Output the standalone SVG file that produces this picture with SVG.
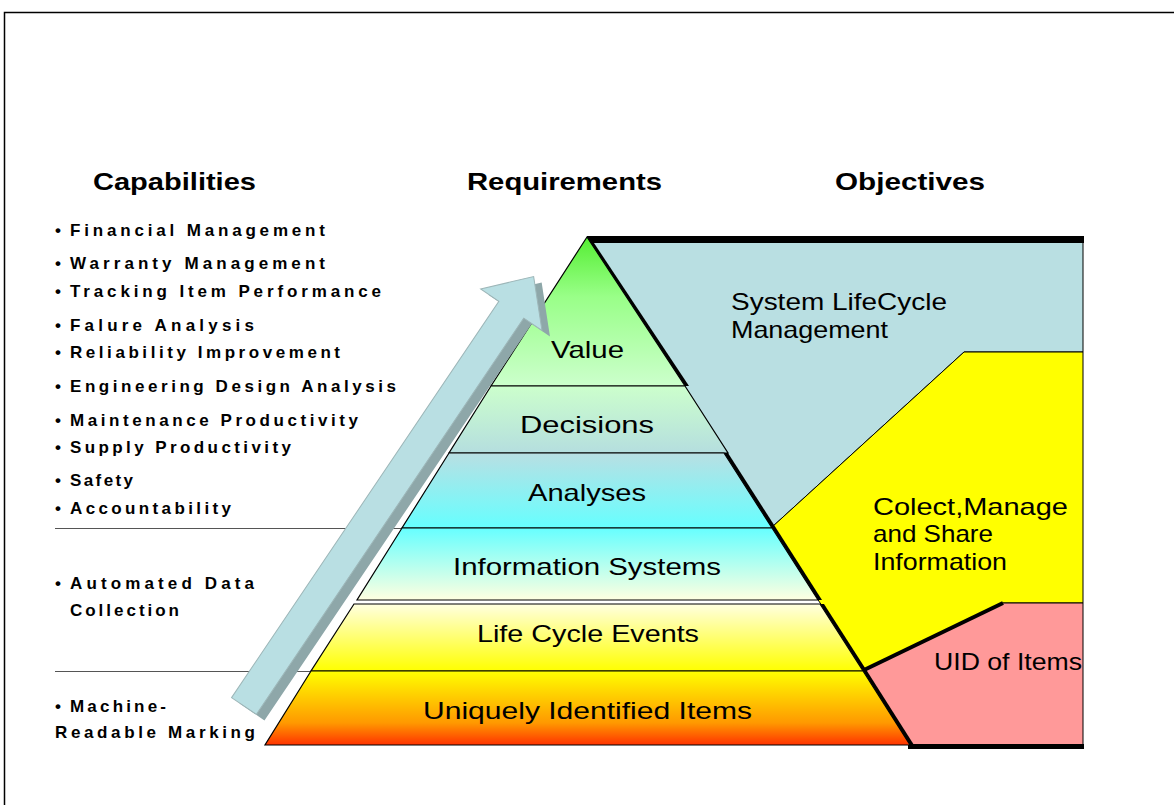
<svg xmlns="http://www.w3.org/2000/svg" width="1174" height="805" viewBox="0 0 1174 805">
<style>
.hdr{font-family:"Liberation Sans",Arial,sans-serif;font-weight:bold;font-size:24px;fill:#000}
.cap{font-family:"Liberation Sans",Arial,sans-serif;font-weight:bold;font-size:17px;fill:#000}
.lbl{font-family:"Liberation Sans",Arial,sans-serif;font-size:24px;fill:#000}
.band{stroke:#000;stroke-width:1.2}
.shadow{fill:#000}
.sep{stroke:#555;stroke-width:1}
</style>
<defs>
<linearGradient id="gValue" x1="0" y1="0" x2="0" y2="1">
<stop offset="0" stop-color="#55EE33"/><stop offset="0.4" stop-color="#99FF88"/><stop offset="1" stop-color="#CCFFCC"/>
</linearGradient>
<linearGradient id="gDec" x1="0" y1="0" x2="0" y2="1">
<stop offset="0" stop-color="#CCFFCC"/><stop offset="1" stop-color="#B5DEDF"/>
</linearGradient>
<linearGradient id="gAna" x1="0" y1="0" x2="0" y2="1">
<stop offset="0" stop-color="#B9DFE3"/><stop offset="1" stop-color="#66FFFF"/>
</linearGradient>
<linearGradient id="gInfo" x1="0" y1="0" x2="0" y2="1">
<stop offset="0" stop-color="#66FFFF"/><stop offset="1" stop-color="#FFFFE0"/>
</linearGradient>
<linearGradient id="gLife" x1="0" y1="0" x2="0" y2="1">
<stop offset="0" stop-color="#FFFFE0"/><stop offset="1" stop-color="#FFFF00"/>
</linearGradient>
<linearGradient id="gUid" x1="0" y1="0" x2="0" y2="1">
<stop offset="0" stop-color="#FFFF00"/><stop offset="0.35" stop-color="#FFCC00"/><stop offset="0.7" stop-color="#FF9900"/><stop offset="1" stop-color="#FF3300"/>
</linearGradient>
</defs>

<rect x="4.5" y="12.5" width="1180" height="800" fill="#fff" stroke="#000" stroke-width="1.5"/>

<g id="headers">
<text class="hdr" x="93" y="190" textLength="163" lengthAdjust="spacingAndGlyphs">Capabilities</text>
<text class="hdr" x="467" y="190" textLength="195" lengthAdjust="spacingAndGlyphs">Requirements</text>
<text class="hdr" x="835" y="190" textLength="150" lengthAdjust="spacingAndGlyphs">Objectives</text>
</g>

<g id="capabilities">
<text class="cap" x="55" y="236">•</text><text class="cap" x="70" y="236" textLength="255" lengthAdjust="spacing">Financial Management</text>
<text class="cap" x="55" y="269">•</text><text class="cap" x="70" y="269" textLength="255" lengthAdjust="spacing">Warranty Management</text>
<text class="cap" x="55" y="297">•</text><text class="cap" x="70" y="297" textLength="311" lengthAdjust="spacing">Tracking Item Performance</text>
<text class="cap" x="55" y="331">•</text><text class="cap" x="70" y="331" textLength="184" lengthAdjust="spacing">Falure Analysis</text>
<text class="cap" x="55" y="358">•</text><text class="cap" x="70" y="358" textLength="270" lengthAdjust="spacing">Reliability Improvement</text>
<text class="cap" x="55" y="392">•</text><text class="cap" x="70" y="392" textLength="326" lengthAdjust="spacing">Engineering Design Analysis</text>
<text class="cap" x="55" y="426">•</text><text class="cap" x="70" y="426" textLength="288" lengthAdjust="spacing">Maintenance Productivity</text>
<text class="cap" x="55" y="453">•</text><text class="cap" x="70" y="453" textLength="221" lengthAdjust="spacing">Supply Productivity</text>
<text class="cap" x="55" y="486">•</text><text class="cap" x="70" y="486" textLength="63" lengthAdjust="spacing">Safety</text>
<text class="cap" x="55" y="514">•</text><text class="cap" x="70" y="514" textLength="161" lengthAdjust="spacing">Accountability</text>
<text class="cap" x="55" y="589">•</text><text class="cap" x="70" y="589" textLength="184" lengthAdjust="spacing">Automated Data</text>
<text class="cap" x="70" y="616" textLength="109" lengthAdjust="spacing">Collection</text>
<text class="cap" x="55" y="712">•</text><text class="cap" x="70" y="712" textLength="96" lengthAdjust="spacing">Machine-</text>
<text class="cap" x="55" y="738" textLength="200" lengthAdjust="spacing">Readable Marking</text>
</g>

<g id="separators">
<line class="sep" x1="55" y1="528.5" x2="402" y2="528.5"/>
<line class="sep" x1="55" y1="671.5" x2="312" y2="671.5"/>
</g>

<g id="objective-lifecycle">
<polygon points="587,237 1083,237 1083,352 964,352 771,528" fill="#B9DFE2" stroke="#000" stroke-width="1"/>
<rect x="587" y="236" width="497" height="7" fill="#000"/>
<text class="lbl" x="731" y="310" textLength="216" lengthAdjust="spacingAndGlyphs">System LifeCycle</text>
<text class="lbl" x="731" y="338" textLength="157" lengthAdjust="spacingAndGlyphs">Management</text>
</g>

<g id="objective-information">
<polygon points="964,352 1083,352 1083,603 1003,603 864,670 771,528" fill="#FFFF00" stroke="#000" stroke-width="1"/>
<text class="lbl" x="873" y="515" textLength="195" lengthAdjust="spacingAndGlyphs">Colect,Manage</text>
<text class="lbl" x="873" y="542" textLength="120" lengthAdjust="spacingAndGlyphs">and Share</text>
<text class="lbl" x="873" y="570" textLength="134" lengthAdjust="spacingAndGlyphs">Information</text>
</g>

<g id="objective-uid">
<polygon points="1003,603 1083,603 1083,745 910,745 864,670" fill="#FF9999" stroke="#000" stroke-width="1"/>
<line x1="864" y1="670" x2="1003" y2="603" stroke="#000" stroke-width="4"/>
<rect x="908" y="744" width="176" height="5" fill="#000"/>
<text class="lbl" x="934" y="670" textLength="148" lengthAdjust="spacingAndGlyphs">UID of Items</text>
</g>

<g id="level-value">
<polygon class="shadow" points="587,237 685,386 689,386 590,237"/>
<polygon class="band" points="587,237 685,386 491,386" fill="url(#gValue)"/>
<text class="lbl" x="551" y="358" textLength="73" lengthAdjust="spacingAndGlyphs">Value</text>
</g>
<g id="level-decisions">
<polygon class="band" points="491,386 685,386 728,453 449,453" fill="url(#gDec)"/>
<text class="lbl" x="520" y="433" textLength="134" lengthAdjust="spacingAndGlyphs">Decisions</text>
</g>
<g id="level-analyses">
<polygon class="shadow" points="724,453 772,528 776,528 728,453"/>
<polygon class="band" points="449,453 724,453 772,528 402,528" fill="url(#gAna)"/>
<text class="lbl" x="528" y="501" textLength="118" lengthAdjust="spacingAndGlyphs">Analyses</text>
</g>
<g id="level-information">
<polygon class="shadow" points="772,528 818,600 822,600 776,528"/>
<polygon class="band" points="402,528 772,528 818,600 357,600" fill="url(#gInfo)"/>
<text class="lbl" x="453" y="575" textLength="268" lengthAdjust="spacingAndGlyphs">Information Systems</text>
</g>
<g id="level-events">
<polygon class="shadow" points="820,604 863,671 867,671 824,604"/>
<polygon class="band" points="354,604 820,604 863,671 311,671" fill="url(#gLife)"/>
<text class="lbl" x="477" y="642" textLength="222" lengthAdjust="spacingAndGlyphs">Life Cycle Events</text>
</g>
<g id="level-uid">
<polygon class="shadow" points="863,671 910,745 914,745 867,671"/>
<polygon class="band" points="311,671 863,671 910,745 265,745" fill="url(#gUid)"/>
<text class="lbl" x="423" y="719" textLength="329" lengthAdjust="spacingAndGlyphs">Uniquely Identified Items</text>
</g>

<g id="arrow">
<polygon transform="translate(252,712) rotate(-56)" points="0,-15 478,-15 478,-37 518,0 478,37 478,15 0,15" fill="#8EA7A9"/>
<polygon transform="translate(244,706) rotate(-56)" points="0,-15 478,-15 478,-37 518,0 478,37 478,15 0,15" fill="#B9DFE3" stroke="#9DB6B8" stroke-width="1"/>
</g>
</svg>
